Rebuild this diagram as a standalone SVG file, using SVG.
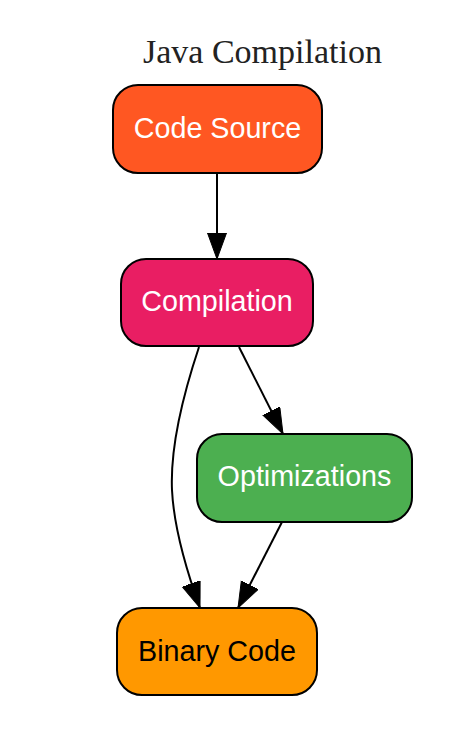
<svg xmlns="http://www.w3.org/2000/svg" width="468" height="735" viewBox="0 0 468 735">
<defs>
<style>
.node rect{stroke:#000;stroke-width:2}
.lbl{font-family:"Liberation Sans",Arial,sans-serif;font-size:28.7px;text-anchor:middle}
.edge{fill:none;stroke:#000;stroke-width:2;marker-end:url(#ah)}
.title{font-family:"Liberation Serif","Times New Roman",serif;font-size:34px;text-anchor:middle;fill:#222}
</style>
<marker id="ah" markerUnits="userSpaceOnUse" markerWidth="27" markerHeight="20" refX="26" refY="9.5" orient="auto" viewBox="0 0 27 20">
<path d="M0,0 L26,9.5 L0,19 z" fill="#000" stroke="#000" stroke-width="1"/>
</marker>
</defs>
<rect width="468" height="735" fill="#fff"/>
<text class="title" x="262.5" y="63">Java Compilation</text>
<g id="connectors">
<path class="edge" d="M217,173 L217,259"/>
<path class="edge" d="M239,347 L283,434"/>
<path class="edge" d="M199,347 C183,395 170,445 172,490 C174,530 187,572 200,608"/>
<path class="edge" d="M282,522 L238,608"/>
</g>
<g id="code_source" class="node">
<rect x="113" y="85" width="209" height="88" rx="25" fill="#FF5722"/>
<text class="lbl" x="217.5" y="137.5" fill="#fff">Code Source</text>
</g>
<g id="compilation" class="node">
<rect x="121" y="259" width="192" height="87" rx="25" fill="#E91E63"/>
<text class="lbl" x="217" y="311" fill="#fff">Compilation</text>
</g>
<g id="optimizations" class="node">
<rect x="197" y="434" width="215" height="88" rx="25" fill="#4CAF50"/>
<text class="lbl" x="304.5" y="486" fill="#fff">Optimizations</text>
</g>
<g id="binary_code" class="node">
<rect x="117" y="608" width="200" height="87" rx="25" fill="#FF9800"/>
<text class="lbl" x="217" y="661" fill="#000">Binary Code</text>
</g>
</svg>
